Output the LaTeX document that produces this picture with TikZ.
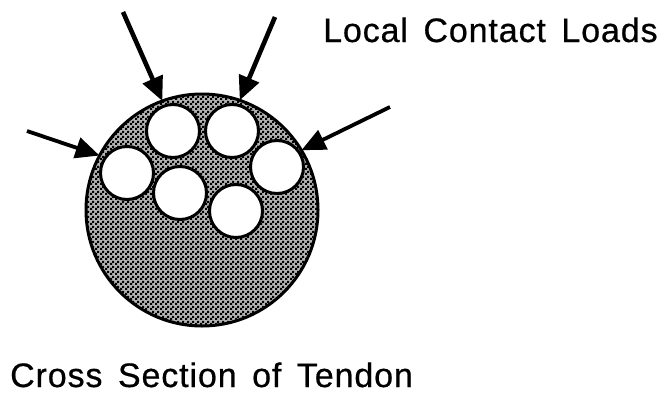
\documentclass[tikz,border=0pt]{standalone}
\usepackage{fontspec}
\setmainfont{Liberation Sans}
\newfontfamily\labelfont[LetterSpace=2.6, WordSpace=1.5, FakeBold=0.6]{Liberation Sans}
\usetikzlibrary{arrows.meta, patterns}

\pgfdeclarepatternformonly{stipple}{\pgfqpoint{0pt}{0pt}}{\pgfqpoint{5pt}{5pt}}{\pgfqpoint{5pt}{5pt}}{
    \pgfpathrectangle{\pgfqpoint{0pt}{0pt}}{\pgfqpoint{2.5pt}{2.5pt}}
    \pgfpathrectangle{\pgfqpoint{2.5pt}{2.5pt}}{\pgfqpoint{2.5pt}{2.5pt}}
    \pgfusepath{fill}
}

\tikzset{
    tendon/.style={circle, draw, line width=3pt, minimum size=232pt, inner sep=0pt, outer sep=0pt},
    fibre/.style={circle, draw, line width=3pt, fill=white, minimum size=53pt, inner sep=0pt},
    load/.style={line width=4.6pt, -{Triangle[length=24pt, width=21pt]}},
    caption/.style={anchor=base west, inner sep=0pt, font=\fontsize{34}{36}\labelfont}
}

\begin{document}
\begin{tikzpicture}[x=1pt, y=-1pt]

    % ==========================================
    % PAGE & TENDON
    % ==========================================

    \useasboundingbox (0, 0) rectangle (664, 394);

    % Stippled body of the tendon
    \fill[black!30] (202, 210) circle (116);
    \fill[pattern=stipple, pattern color=black] (202, 210) circle (116);
    \node[tendon] (tendon) at (202, 210) {};

    % ==========================================
    % FIBRES
    % ==========================================

    \node[fibre] (fibreA) at (127, 173) {};
    \node[fibre] (fibreB) at (173, 131) {};
    \node[fibre] (fibreC) at (232, 131) {};
    \node[fibre] (fibreD) at (277, 167) {};
    \node[fibre] (fibreE) at (180, 193) {};
    \node[fibre] (fibreF) at (236, 211) {};

    % ==========================================
    % CONTACT LOADS
    % ==========================================

    % Tails of the arrows, the heads stop on the tendon
    \coordinate (tailA) at (123, 12);
    \coordinate (tailB) at (275, 17);
    \coordinate (tailC) at (27, 131);
    \coordinate (tailD) at (390, 107);

    \draw[load] (tailA) -- (tendon.110);
    \draw[load] (tailB) -- (tendon.71);
    \draw[load, line width=3.8pt] (tailC) -- (tendon.152);
    \draw[load, line width=3.8pt] (tailD) -- (tendon.31);

    % ==========================================
    % LABELS
    % ==========================================

    \node[caption] (contact) at (323, 42) {Local Contact Loads};
    \node[caption] (section) at (10, 387) {Cross Section of Tendon};

\end{tikzpicture}
\end{document}
